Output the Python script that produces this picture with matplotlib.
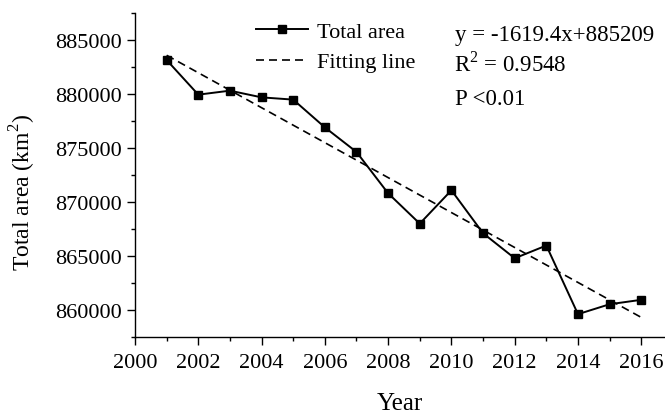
import matplotlib
matplotlib.use('Agg')
import matplotlib.pyplot as plt
from matplotlib.ticker import MultipleLocator

plt.rcParams['font.family'] = ['Liberation Serif', 'DejaVu Serif']
plt.rcParams['mathtext.fontset'] = 'custom'
plt.rcParams['mathtext.rm'] = 'Liberation Serif'

years = [2001, 2002, 2003, 2004, 2005, 2006, 2007, 2008,
         2009, 2010, 2011, 2012, 2013, 2014, 2015, 2016]
total_area = [883150, 879940, 880310, 879690, 879480, 876910, 874630, 870800,
              867990, 871080, 867100, 864780, 865960, 859600, 860520, 860930]
slope = -1619.4
intercept = 885209
fit = [slope * (i + 1) + intercept for i in range(len(years))]

fig = plt.figure(figsize=(6.65, 4.14), dpi=100)
ax = fig.add_axes([0.203, 0.184, 0.797, 0.782])

ax.plot(years, total_area, color='black', lw=1.4, marker='s', ms=6,
        label='Total area')
ax.plot(years, fit, color='black', lw=1.2, ls=(0, (4.8, 3)), label='Fitting line')

ax.set_xlim(2000, 2016.75)
ax.set_ylim(857500, 887500)
ax.xaxis.set_major_locator(MultipleLocator(2))
ax.xaxis.set_minor_locator(MultipleLocator(1))
ax.yaxis.set_major_locator(MultipleLocator(5000))
ax.yaxis.set_minor_locator(MultipleLocator(2500))
ax.tick_params(which='major', direction='out', length=6, width=1, labelsize=16)
ax.tick_params(which='minor', direction='out', length=3, width=1)
ax.tick_params(axis='x', which='major', pad=6)
ax.tick_params(axis='y', which='major', pad=3.5)
for s in ['top', 'right']:
    ax.spines[s].set_visible(False)
for s in ['left', 'bottom']:
    ax.spines[s].set_linewidth(1)

ax.set_xlabel('Year', fontsize=18, labelpad=14)
ax.set_ylabel('Total area (km$^2$)', fontsize=17)
ax.yaxis.set_label_coords(-0.183, 0.449)

ax.legend(loc='upper left', bbox_to_anchor=(0.1906, 1.0365), frameon=False,
          fontsize=16, handlelength=2.33, handletextpad=0.4, labelspacing=0.45)

ax.text(0.604, 0.934, 'y = -1619.4x+885209', transform=ax.transAxes,
        fontsize=16.5, va='center')
ax.text(0.6025, 0.844, 'R$^2$ = 0.9548', transform=ax.transAxes,
        fontsize=16.5, va='center')
ax.text(0.6035, 0.735, 'P <0.01', transform=ax.transAxes,
        fontsize=16.5, va='center')

fig.savefig('out.png', dpi=100)
